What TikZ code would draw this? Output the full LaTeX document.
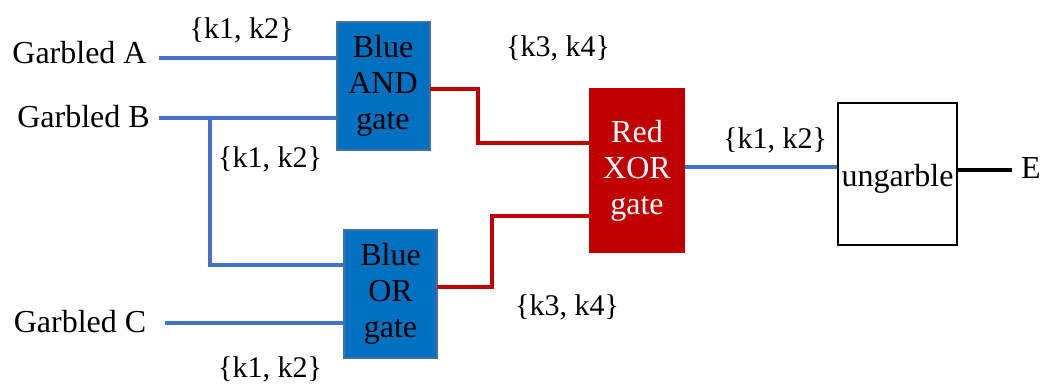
\documentclass[tikz,border=0pt]{standalone}
\usepackage{fontspec}
\setmainfont{Liberation Serif}
\definecolor{gblue}{HTML}{0070C0}
\definecolor{gborder}{HTML}{41719C}
\definecolor{lblue}{HTML}{4472C4}
\definecolor{gred}{HTML}{C00000}
\begin{document}
\begin{tikzpicture}[x=0.5pt,y=-0.5pt,
  txt/.style={anchor=base,inner sep=0pt,font=\fontsize{16}{18}\selectfont},
  key/.style={anchor=base,inner sep=0pt,font=\fontsize{15}{18}\selectfont},
  bluegate/.style={draw=gborder,fill=gblue,line width=1pt,minimum width=46.5pt,minimum height=64pt,align=center,inner sep=0pt,font=\fontsize{16}{18}\selectfont},
  redgate/.style={draw=none,fill=gred,text=white,minimum width=48pt,minimum height=82.5pt,align=center,inner sep=0pt,font=\fontsize{16}{18}\selectfont},
  plainbox/.style={draw=black,line width=1.2pt,minimum width=59.5pt,minimum height=71pt,inner sep=0pt,font=\fontsize{16}{18}\selectfont},
  bw/.style={draw=lblue,line width=1.6pt},
  rw/.style={draw=gred,line width=1.6pt},
  kw/.style={draw=black,line width=1.6pt}]
\useasboundingbox (0,0) rectangle (1044,386);
% gates
\node[bluegate] (and) at (383,86) {Blue\\AND\\gate};
\node[bluegate] (or) at (390.5,294) {Blue\\OR\\gate};
\node[redgate] (xor) at (637,170.5) {Red\\XOR\\gate};
\node[plainbox] (ung) at (897.5,174) {};
\node[txt] (ungt) at (897.5,186) {ungarble};
% input labels
\node[txt] (ga) at (79.5,63) {Garbled A};
\node[txt] (gb) at (83.5,127) {Garbled B};
\node[txt] (gc) at (80,332) {Garbled C};
\node[txt] (e) at (1031,178) {E};
% key labels
\node[key] (k1) at (241.5,38) {\{k1, k2\}};
\node[key] (k2) at (270,167) {\{k1, k2\}};
\node[key] (k3) at (270,377) {\{k1, k2\}};
\node[key] (k4) at (558,56) {\{k3, k4\}};
\node[key] (k5) at (567,315) {\{k3, k4\}};
\node[key] (k6) at (775,148) {\{k1, k2\}};
% coordinates
\coordinate (a0) at (159,58);
\coordinate (b0) at (159,118);
\coordinate (bj) at (210,118);
\coordinate (bk) at (210,265);
\coordinate (c0) at (165,323);
\coordinate (ao) at (430,89);
\coordinate (am) at (478,89);
\coordinate (an) at (478,143);
\coordinate (oo) at (437,287);
\coordinate (om) at (492,287);
\coordinate (on) at (492,216);
\coordinate (xo) at (685,167);
\coordinate (uo) at (957,170);
\coordinate (eo) at (1012,170);
% connectors
\draw[bw] (a0) -- (a0 -| and.west);
\draw[bw] (b0) -- (b0 -| and.west);
\draw[bw] (bj) -- (bk) -- (bk -| or.west);
\draw[bw] (c0) -- (c0 -| or.west);
\draw[rw] (ao) -- (am) -- (an) -- (an -| xor.west);
\draw[rw] (oo) -- (om) -- (on) -- (on -| xor.west);
\draw[bw] (xo) -- (xo -| ung.west);
\draw[kw] (uo) -- (eo);
\end{tikzpicture}
\end{document}
